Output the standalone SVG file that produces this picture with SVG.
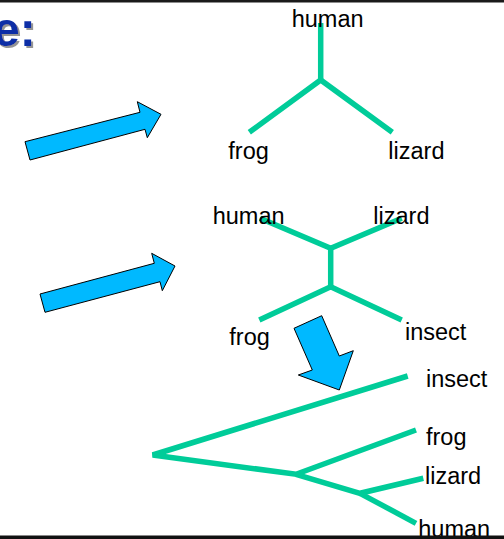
<svg xmlns="http://www.w3.org/2000/svg" width="504" height="539" viewBox="0 0 504 539">
<style>
.br{stroke:#00cc99;stroke-width:5.5;fill:none;stroke-linecap:butt;stroke-linejoin:miter}
.lb{font-family:"Liberation Sans",Arial,sans-serif;font-size:23.5px;fill:#000}
.ar{fill:#00b9ff;stroke:#000;stroke-width:1}
.tt{font-family:"Liberation Sans",Arial,sans-serif;font-size:48px;font-weight:bold}
</style>
<defs>
<filter id="sh" x="-20%" y="-20%" width="150%" height="150%">
<feDropShadow dx="2" dy="2" stdDeviation="0.6" flood-color="#888" flood-opacity="0.9"/>
</filter>
</defs>
<rect x="0" y="0" width="504" height="539" fill="#fff"/>
<g id="title">
<text class="tt" x="-7" y="46" fill="#0a2ea6" filter="url(#sh)">e:</text>
</g>
<g id="arrows">
<polygon id="arrow1" class="ar" points="25,141.7 140,112.3 137.3,101.7 161,114.3 147.3,137.7 145,129.3 30,160"/>
<polygon id="arrow2" class="ar" points="40,294 154.3,263.3 151.7,253.3 175,266 162.3,290.7 160,281.7 45,312.3"/>
<polygon id="arrow3" class="ar" points="294,328.3 321.7,315.7 339.3,356 353.3,350.7 339.3,390 298.3,375 312.3,370"/>
</g>
<g id="connectors">
<g id="tree1">
<polyline class="br" points="320.7,23 320.7,80"/>
<polyline class="br" points="249.3,132.3 320.7,80 392.3,132.3"/>
</g>
<g id="tree2">
<polyline class="br" points="260,218.3 330.7,248.3 401.7,218.3"/>
<polyline class="br" points="330.7,248.3 330.7,286.7"/>
<polyline class="br" points="259.3,320 330.7,286.7 401.7,320"/>
</g>
<g id="tree3">
<polyline class="br" points="407.7,376 152.7,455 296,474.3 416,430"/>
<polyline class="br" points="296,474.3 360,493.3 423.3,478.3"/>
<polyline class="br" points="360,493.3 416,523.3"/>
</g>
</g>
<g id="tree1-labels">
<text class="lb" x="291.7" y="27">human</text>
<text class="lb" x="228.3" y="158.5">frog</text>
<text class="lb" x="388.3" y="158.5">lizard</text>
</g>
<g id="tree2-labels">
<text class="lb" x="212.7" y="223.5">human</text>
<text class="lb" x="373.3" y="223.5">lizard</text>
<text class="lb" x="229.3" y="345">frog</text>
<text class="lb" x="405" y="340">insect</text>
</g>
<g id="tree3-labels">
<text class="lb" x="426" y="386.7">insect</text>
<text class="lb" x="426" y="445">frog</text>
<text class="lb" x="425" y="484.3">lizard</text>
<text class="lb" x="418.3" y="536.5">human</text>
</g>
<g id="frame">
<rect x="0" y="0" width="504" height="2.5" fill="#1a1a1a"/>
<rect x="0" y="535.5" width="504" height="3.5" fill="#111"/>
</g>
</svg>
